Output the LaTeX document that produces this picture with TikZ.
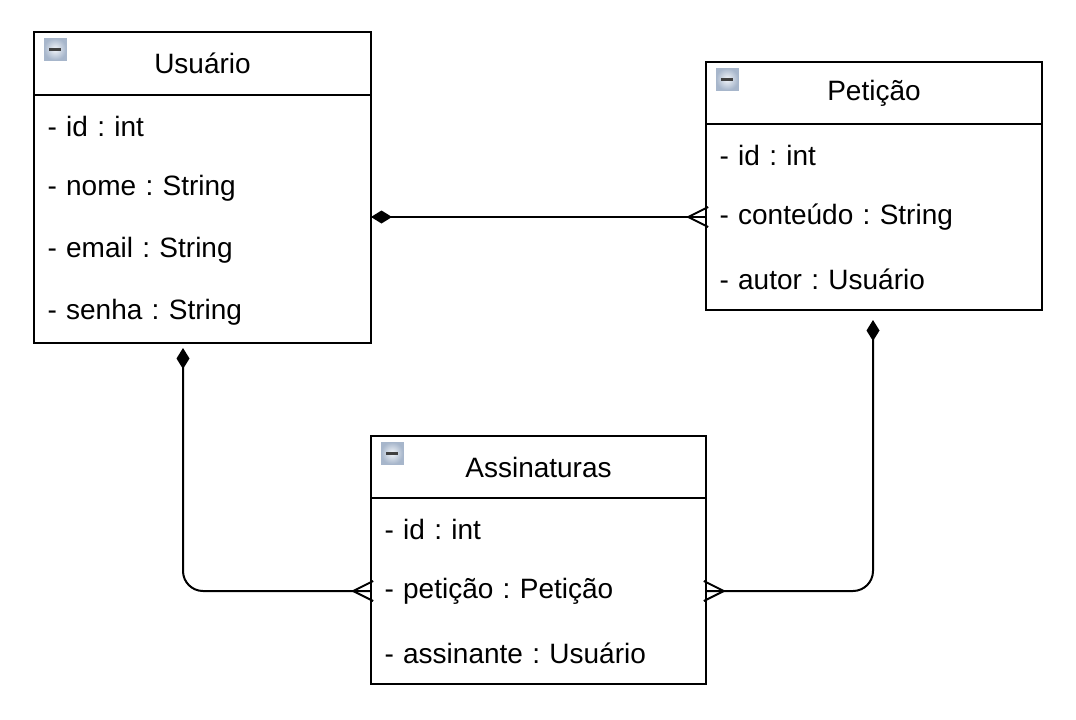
\documentclass[tikz,border=0pt]{standalone}
\usepackage{fontspec}
\setmainfont{Liberation Sans}
\usetikzlibrary{arrows.meta,positioning,fit}
\definecolor{iconedge}{HTML}{A7B6CB}
\definecolor{iconfill}{HTML}{F2F5F9}
\frenchspacing

\begin{document}
\begin{tikzpicture}[x=1pt,y=-1pt,
  every node/.style={font=\fontsize{28}{32}\selectfont, outer sep=0pt},
  header/.style={draw, line width=2pt, minimum width=#1, minimum height=62, inner sep=0pt, anchor=north west},
  field/.style={text width=#1, minimum height=62, inner xsep=13.5pt, inner ysep=0pt, align=left},
  classbox/.style={draw, line width=2pt, inner sep=0pt},
  icon/.style={draw=iconedge, line width=1pt, inner color=iconfill, outer color=iconedge, minimum size=22, inner sep=0pt, anchor=north west,
    path picture={\draw[line width=3pt, black!75] ([xshift=-6pt]path picture bounding box.center) -- ([xshift=6pt]path picture bounding box.center);}},
  link/.style={line width=2pt, rounded corners=20pt, arrows={Diamond[length=21pt,width=13pt]-}},
  crow/.style={rounded corners=0pt, arrows={-Straight Barb[length=20pt,width=20pt]}}
]
\useasboundingbox (0,0) rectangle (1076,720);

% Usuario
\node[header=337, minimum height=63] (usuario-t) at (34,32) {Usuário};
\node[icon, below right=6pt and 10pt of usuario-t.north west] (usuario-i) {};
\node[field=310pt, below=0pt of usuario-t] (u-id) {- id : int};
\node[field=310pt, below=0pt of u-id] (u-nome) {- nome : String};
\node[field=310pt, below=0pt of u-nome] (u-email) {- email : String};
\node[field=310pt, below=0pt of u-email] (u-senha) {- senha : String};
\node[classbox, fit=(usuario-t)(u-senha)] (usuario) {};

% Peticao
\node[header=336] (peticao-t) at (706,62) {Petição};
\node[icon, below right=6pt and 10pt of peticao-t.north west] (peticao-i) {};
\node[field=309pt, below=0pt of peticao-t] (p-id) {- id : int};
\node[field=309pt, below=0pt of p-id] (p-cont) {- conteúdo : String};
\node[field=309pt, below=0pt of p-cont] (p-autor) {- autor : Usuário};
\node[classbox, fit=(peticao-t)(p-autor)] (peticao) {};

% Assinaturas
\node[header=335] (assin-t) at (371,436) {Assinaturas};
\node[icon, below right=6pt and 10pt of assin-t.north west] (assin-i) {};
\node[field=308pt, below=0pt of assin-t] (a-id) {- id : int};
\node[field=308pt, below=0pt of a-id] (a-pet) {- petição : Petição};
\node[field=308pt, below=0pt of a-pet] (a-ass) {- assinante : Usuário};
\node[classbox, fit=(assin-t)(a-ass)] (assin) {};

\coordinate (u-out) at (183,348);
\coordinate (p-out) at (873,320);

\draw[link] (usuario.east |- p-cont) -- (peticao.west |- p-cont) edge[crow] ++(-20,0);
\draw[link] (u-out) |- (assin.west |- a-pet) edge[crow] ++(-20,0);
\draw[link] (p-out) |- (assin.east |- a-pet) edge[crow] ++(20,0);
\end{tikzpicture}
\end{document}
